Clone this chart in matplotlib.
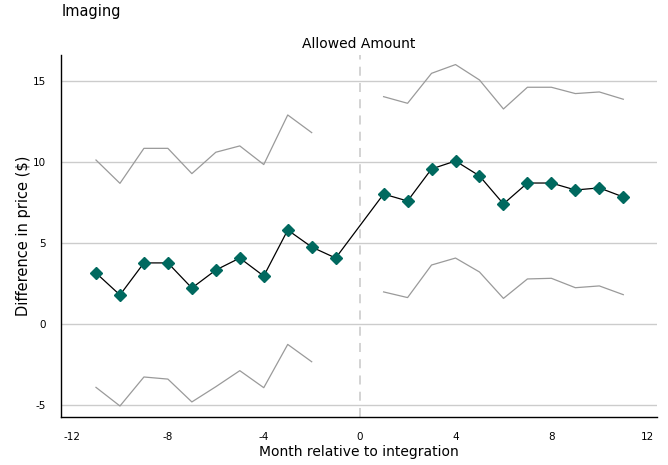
import matplotlib
matplotlib.use("Agg")
from matplotlib import pyplot as plt

plt.rcParams["axes.unicode_minus"] = False

# months relative to integration (month 0 left out)
pre_months = [-11, -10, -9, -8, -7, -6, -5, -4, -3, -2, -1]
post_months = [1, 2, 3, 4, 5, 6, 7, 8, 9, 10, 11]

# point estimates
pre_est = [3.15, 1.79, 3.77, 3.77, 2.22, 3.33, 4.07, 2.96, 5.80, 4.75, 4.07]
post_est = [8.02, 7.59, 9.57, 10.06, 9.14, 7.41, 8.70, 8.70, 8.27, 8.40, 7.84]

# confidence bands (pre period has no band at -1)
ci_pre_months = [-11, -10, -9, -8, -7, -6, -5, -4, -3, -2]
pre_upper = [10.12, 8.68, 10.84, 10.84, 9.28, 10.60, 10.99, 9.84, 12.90, 11.81]
pre_lower = [-3.91, -5.06, -3.27, -3.40, -4.81, -3.87, -2.88, -3.93, -1.26, -2.33]
post_upper = [14.03, 13.62, 15.47, 16.01, 15.06, 13.27, 14.61, 14.61, 14.22, 14.32, 13.87]
post_lower = [1.98, 1.63, 3.64, 4.07, 3.21, 1.58, 2.78, 2.82, 2.24, 2.35, 1.81]

xticks = [-12, -8, -4, 0, 4, 8, 12]
yticks = [-5, 0, 5, 10, 15]

fig = plt.figure(figsize=(6.68, 4.65), dpi=100)
ax = fig.add_axes([0.0913, 0.1032, 0.892, 0.7785])

for y in yticks:
    ax.axhline(y, color="#cccccc", lw=1, zorder=0)
ax.axvline(0, color="#d0d0d0", lw=1.3, ls=(0, (5, 4)), zorder=0)

gray = "#9a9a9a"
ax.plot(ci_pre_months, pre_upper, color=gray, lw=0.9)
ax.plot(ci_pre_months, pre_lower, color=gray, lw=0.9)
ax.plot(post_months, post_upper, color=gray, lw=0.9)
ax.plot(post_months, post_lower, color=gray, lw=0.9)

months = pre_months + post_months
est = pre_est + post_est
ax.plot(months, est, color="black", lw=0.9, marker="D", markersize=6.5,
        markerfacecolor="#00695f", markeredgecolor="#00695f", zorder=3)

ax.set_xlim(-12.46, 12.4)
ax.set_ylim(-5.74, 16.6)
ax.set_xticks(xticks)
ax.set_yticks(yticks)
ax.tick_params(length=0, labelsize=7.5, pad=11)
for s in ["top", "right"]:
    ax.spines[s].set_visible(False)
ax.spines["left"].set_linewidth(1)
ax.spines["bottom"].set_linewidth(1)

ax.set_xlabel("Month relative to integration", fontsize=10, labelpad=2)
ax.set_ylabel("Difference in price ($)", fontsize=10.5, labelpad=1)
ax.set_title("Allowed Amount", fontsize=10, pad=5)
fig.text(0.0925, 0.975, "Imaging", fontsize=10.5, va="center", ha="left")

fig.savefig("out.png", dpi=100)
